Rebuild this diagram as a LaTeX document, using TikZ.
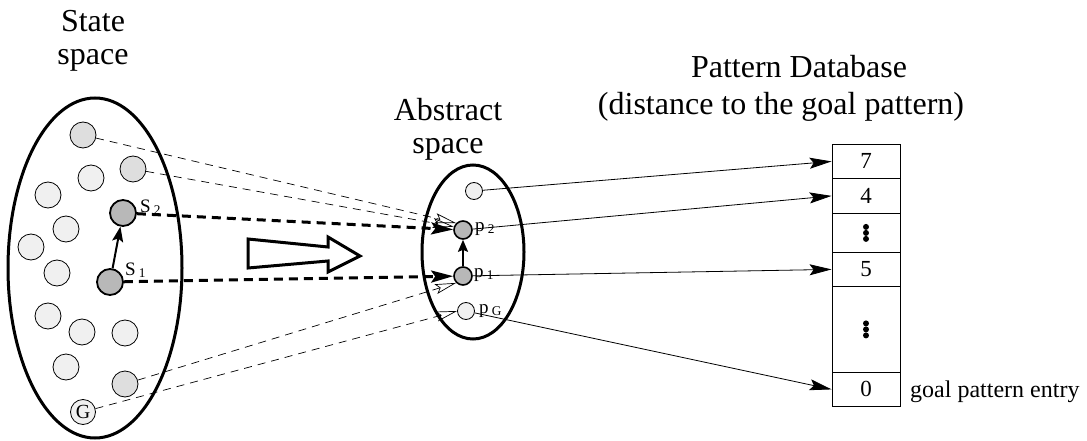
\documentclass[tikz,border=0pt]{standalone}
\usepackage{fontspec}
\setmainfont{Liberation Serif}
\usetikzlibrary{arrows.meta}

\begin{document}
\begin{tikzpicture}[x=1pt,y=-1pt,
    st/.style={circle,draw,line width=0.8pt,fill=black!6,minimum size=26pt,inner sep=0pt},
    stm/.style={fill=black!13},
    std/.style={st,line width=1.8pt,fill=black!28},
    ab/.style={circle,draw,line width=0.8pt,fill=black!6,minimum size=17pt,inner sep=0pt},
    abd/.style={ab,line width=1.6pt,fill=black!28,minimum size=18pt},
    cell/.style={draw,line width=0.8pt,minimum width=68pt,inner sep=0pt,anchor=north,font=\fontsize{23}{23}\selectfont},
    lbl/.style={inner sep=0pt,anchor=base west,font=\fontsize{19}{19}\selectfont},
    ttl/.style={align=center,inner sep=0pt,font=\fontsize{32}{33}\selectfont},
    thinmap/.style={dash pattern=on 8pt off 6pt,line width=0.7pt,-{Stealth[open,length=21pt,width=10pt,inset=4pt]}},
    thickmap/.style={dash pattern=on 9pt off 6pt,line width=3pt,-{Stealth[length=22pt,width=12pt,inset=4pt]}},
    lookup/.style={line width=0.8pt,-{Stealth[length=22pt,width=11pt,inset=4pt]}}]
  \useasboundingbox (0,0) rectangle (1087,441);
  % titles
  \node[ttl,anchor=north] (tstate) at (93,10) {State\\space};
  \node[ttl,anchor=north] (tabs) at (448,98) {Abstract\\space};
  \node[ttl,anchor=base] (tpdb) at (799,78) {Pattern Database};
  \node[ttl,anchor=base] (tdist) at (781,115) {(distance to the goal pattern)};
  % state space
  \draw[line width=3pt] (95,268) ellipse [x radius=87pt, y radius=170pt];
  \node[st,stm] (c1) at (83,135) {};
  \node[st] (c2) at (91,178) {};
  \node[st,stm] (c3) at (133,169) {};
  \node[st] (c4) at (48,195) {};
  \node[st] (c6) at (66,229) {};
  \node[st] (c7) at (31,247) {};
  \node[st] (c8) at (57,273) {};
  \node[st] (c10) at (48,316) {};
  \node[st] (c11) at (82,332) {};
  \node[st] (c12) at (125,333) {};
  \node[st] (c13) at (66,367) {};
  \node[st,stm] (c14) at (125,384) {};
  \node[st,minimum size=25pt,font=\fontsize{20}{20}\selectfont] (g) at (83,412) {G};
  \node[std] (s2) at (123,213) {};
  \node[std] (s1) at (110,282) {};
  \node[lbl] (s2l) at (140,212) {S\,\textsubscript{2}};
  \node[lbl] (s1l) at (125,275) {S\,\textsubscript{1}};
  \draw[line width=2pt,-{Stealth[length=15pt,width=11pt,inset=3pt]}] (s1) -- (s2);
  % abstraction arrow
  \draw[line width=3pt,line join=miter] (248,239) -- (328,247) -- (328,237) -- (360,256)
    -- (328,272) -- (328,261) -- (248,268) -- cycle;
  % abstract space
  \draw[line width=3pt] (473,252) ellipse [x radius=51pt, y radius=87pt];
  \node[ab] (pt) at (474,191) {};
  \node[abd] (p2) at (463,230) {};
  \node[abd] (p1) at (463,276) {};
  \node[ab] (pG) at (466,311) {};
  \node[lbl] (p2l) at (475,231) {p\,\textsubscript{2}};
  \node[lbl] (p1l) at (474,277) {p\,\textsubscript{1}};
  \node[lbl] (pGl) at (479,313) {p\,\textsubscript{G}};
  \draw[line width=2pt,-{Stealth[length=12pt,width=10pt,inset=2pt]}] (p1) -- (p2);
  % mapping
  \draw[thickmap] (s2) -- (p2);
  \draw[thickmap] (s1) -- (p1);
  \draw[thinmap] (c1) -- (p2.north west);
  \draw[thinmap] (c3) -- (p2.160);
  \draw[thinmap] (c14) -- (p1.south west);
  \draw[thinmap] (g) -- (pG.west);
  % pattern database
  \node[cell,minimum height=34pt] (r7) at (866,144) {7};
  \node[cell,minimum height=35pt] (r4) at (866,178) {4};
  \node[cell,minimum height=39pt] (rd1) at (866,213) {};
  \node[cell,minimum height=34pt] (r5) at (866,252) {5};
  \node[cell,minimum height=86pt] (rd2) at (866,286) {};
  \node[cell,minimum height=34pt] (r0) at (866,372) {0};
  \foreach \n in {rd1,rd2}
    \foreach \dy in {-6,0,6}
      \fill (\n.center) ++(0,\dy) circle [radius=3pt];
  \node[anchor=base west,inner sep=0pt,font=\fontsize{24}{24}\selectfont] (gpe) at (910,397) {goal pattern entry};
  \draw[lookup] (pt) -- (r7.west);
  \draw[lookup] (p2) -- (r4.west);
  \draw[lookup] (p1) -- (r5.west);
  \draw[lookup] (pG) -- (r0.west);
\end{tikzpicture}
\end{document}
